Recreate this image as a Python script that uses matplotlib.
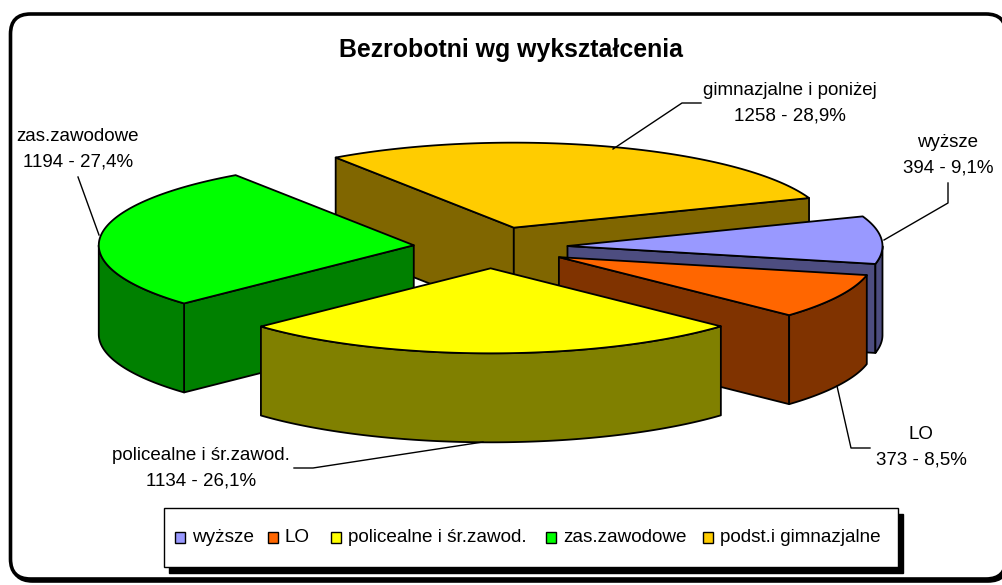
import numpy as np
import matplotlib
matplotlib.use('Agg')
import matplotlib.pyplot as plt
from matplotlib.patches import FancyBboxPatch, Polygon, Rectangle

plt.rcParams['font.family'] = ['Liberation Sans', 'DejaVu Sans']

# dane
categories = ['wyższe', 'LO', 'policealne i śr.zawod.', 'zas.zawodowe', 'podst.i gimnazjalne']
values = [394, 373, 1134, 1194, 1258]
percent_labels = ['9,1%', '8,5%', '26,1%', '27,4%', '28,9%']
slice_names = ['wyższe', 'LO', 'policealne i śr.zawod.', 'zas.zawodowe', 'gimnazjalne i poniżej']
top_colors = ['#9999FF', '#FF6600', '#FFFF00', '#00FF00', '#FFCC00']
side_colors = ['#4D4D80', '#803300', '#808000', '#008000', '#806600']
title = 'Bezrobotni wg wykształcenia'

# geometria wykresu (piksele)
cx, cy = 490.5, 247.5
rx, ry = 315, 85
depth = 89
explode = 0.245
start_angle = 20.4

fig = plt.figure(figsize=(10.03, 5.85), dpi=100)
ax = fig.add_axes([0, 0, 1, 1])
ax.set_xlim(0, 1003)
ax.set_ylim(585, 0)
ax.axis('off')


def to_screen(t, r, ox, oy):
    return ox + r * rx * np.cos(t), oy - r * ry * np.sin(t)


def wall(xs, ys, color, z):
    pts = list(zip(xs, ys)) + [(x, y + depth) for x, y in zip(xs[::-1], ys[::-1])]
    ax.add_patch(Polygon(pts, closed=True, fc=color, ec='black', lw=1.3, joinstyle='round', zorder=z))


# ramka
ax.add_patch(FancyBboxPatch((12.5, 16), 995.5, 565, boxstyle='round,pad=0,rounding_size=20',
                            fc='black', ec='black', lw=2.6, zorder=0))
ax.add_patch(FancyBboxPatch((10.5, 14), 995.5, 565, boxstyle='round,pad=0,rounding_size=20',
                            fc='white', ec='black', lw=2.6, zorder=1))

# wycinki
total = sum(values)
edges = start_angle - np.cumsum([0] + values) / total * 360
order = [4, 3, 0, 1, 2]
for n, i in enumerate(order):
    z = 2 + n
    t1, t2 = np.radians(edges[i]), np.radians(edges[i + 1])
    mid = (t1 + t2) / 2
    ox, oy = to_screen(mid, explode, cx, cy)
    if np.cos(t1) < 0:
        x, y = to_screen(t1, 1, ox, oy)
        wall([ox, x], [oy, y], side_colors[i], z)
    if np.cos(t2) > 0:
        x, y = to_screen(t2, 1, ox, oy)
        wall([ox, x], [oy, y], side_colors[i], z)
    # widoczna czesc sciany zewnetrznej
    t = np.linspace(t1, t2, 200)
    front = t[np.sin(t) <= 0]
    if len(front) > 1:
        xs, ys = to_screen(front, 1, ox, oy)
        wall(xs, ys, side_colors[i], z)
    xs, ys = to_screen(t, 1, ox, oy)
    pts = [(ox, oy)] + list(zip(xs, ys))
    ax.add_patch(Polygon(pts, closed=True, fc=top_colors[i], ec='black', lw=1.3, joinstyle='round', zorder=z))

# tytul
ax.text(511, 50, title, ha='center', va='center', fontsize=17.9, fontweight='bold', zorder=20)

# etykiety
label_x = [948, 921, 201, 78, 790]
label_y = [155, 447, 468, 149, 103]
for i in range(5):
    ax.text(label_x[i], label_y[i], slice_names[i] + '\n' + str(values[i]) + ' - ' + percent_labels[i],
            ha='center', va='center', fontsize=13.5, linespacing=1.63, zorder=20)

# linie odniesienia
leader_x = [[884, 948, 948], [837, 851, 870], [483, 313, 294], [99, 78], [613, 682, 701]]
leader_y = [[240, 203, 183], [386, 448, 448], [442, 468, 468], [235, 177], [149, 103, 103]]
for lx, ly in zip(leader_x, leader_y):
    ax.plot(lx, ly, color='black', lw=1.0, zorder=20)

# legenda
ax.add_patch(Rectangle((169, 514), 734, 59, fc='black', ec='black', lw=1, zorder=20))
ax.add_patch(Rectangle((164, 508), 734, 59, fc='white', ec='black', lw=1, zorder=21))
box_x = [175, 268, 331, 546, 703]
for i in range(5):
    ax.add_patch(Rectangle((box_x[i], 532), 10.5, 10.5, fc=top_colors[i], ec='black', lw=1, zorder=22))
    ax.text(box_x[i] + 17, 537.5, categories[i], ha='left', va='center', fontsize=13.6, zorder=22)

fig.savefig('out.png', dpi=100, facecolor='white')
